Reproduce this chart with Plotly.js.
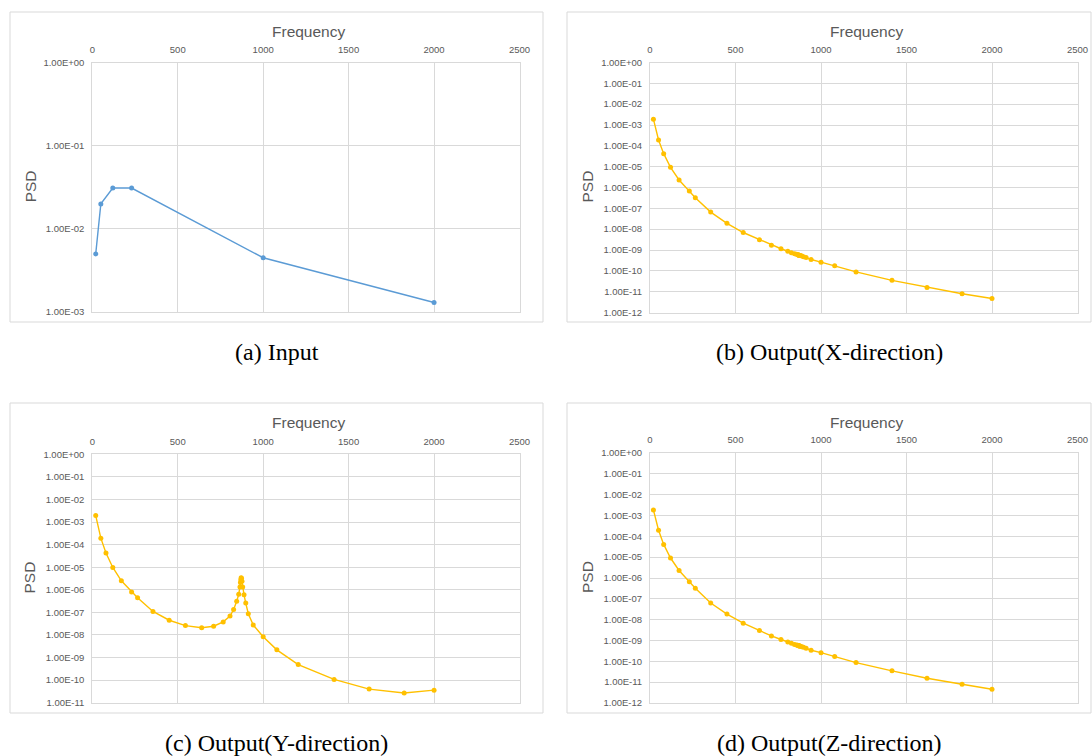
<!DOCTYPE html>
<html>
<head>
<meta charset="utf-8">
<script src="https://cdn.plot.ly/plotly-3.0.1.min.js"></script>
<style>
  html, body { margin: 0; padding: 0; background: #ffffff; }
  #chart { width: 1092px; height: 756px; }
</style>
</head>
<body>
<div id="chart"></div>
<script>
// ---------------- data ----------------
const inputFreq = [20, 50, 120, 230, 1000, 2000];
const inputPSD  = [0.005, 0.02, 0.031, 0.031, 0.0045, 0.0013];

const outFreq = [20, 50, 80, 120, 170, 230, 265, 355, 450, 545, 640, 710, 766, 806, 827, 845, 857,
                 864, 867, 869, 871, 873, 876, 880, 888, 898, 913, 942, 1000, 1080, 1205, 1415, 1620, 1825, 2000];

const outX = [1.91e-3, 1.91e-4, 4.22e-5, 9.33e-6, 2.29e-6, 6.76e-7, 3.24e-7, 6.61e-8, 1.91e-8, 6.92e-9,
              3.09e-9, 1.70e-9, 1.15e-9, 8.7e-10, 7.4e-10, 6.6e-10, 6.2e-10,
              5.9e-10, 5.75e-10, 5.7e-10, 5.6e-10, 5.55e-10, 5.5e-10, 5.4e-10, 5.1e-10, 4.8e-10, 4.4e-10,
              3.5e-10, 2.6e-10, 1.74e-10, 8.9e-11, 3.5e-11, 1.6e-11, 7.9e-12, 4.7e-12];

const outY = [1.95e-3, 1.95e-4, 4.27e-5, 9.8e-6, 2.5e-6, 8.1e-7, 4.5e-7, 1.1e-7, 4.5e-8, 2.6e-8,
              2.1e-8, 2.45e-8, 3.8e-8, 6.9e-8, 1.35e-7, 3.1e-7, 6.3e-7,
              1.35e-6, 2.1e-6, 2.8e-6, 3.4e-6, 3.3e-6, 2.4e-6, 1.35e-6, 6.0e-7, 2.6e-7, 8.7e-8,
              2.75e-8, 8.3e-9, 2.2e-9, 4.9e-10, 1.07e-10, 4.0e-11, 2.7e-11, 3.6e-11];

const outZ = [1.86e-3, 1.95e-4, 4.1e-5, 9.1e-6, 2.3e-6, 6.6e-7, 3.2e-7, 6.3e-8, 1.86e-8, 6.8e-9,
              3.0e-9, 1.66e-9, 1.12e-9, 8.5e-10, 7.3e-10, 6.5e-10, 6.1e-10,
              5.85e-10, 5.7e-10, 5.65e-10, 5.55e-10, 5.5e-10, 5.45e-10, 5.35e-10, 5.05e-10, 4.75e-10, 4.3e-10,
              3.4e-10, 2.6e-10, 1.7e-10, 8.7e-11, 3.5e-11, 1.55e-11, 7.9e-12, 4.6e-12];

const xTicks = [0, 500, 1000, 1500, 2000, 2500];
const yTicksA = ["1.00E+00", "1.00E-01", "1.00E-02", "1.00E-03"];
const yTicksB = ["1.00E+00", "1.00E-01", "1.00E-02", "1.00E-03", "1.00E-04", "1.00E-05", "1.00E-06",
                 "1.00E-07", "1.00E-08", "1.00E-09", "1.00E-10", "1.00E-11", "1.00E-12"];
const yTicksC = ["1.00E+00", "1.00E-01", "1.00E-02", "1.00E-03", "1.00E-04", "1.00E-05", "1.00E-06",
                 "1.00E-07", "1.00E-08", "1.00E-09", "1.00E-10", "1.00E-11"];

const captions = ["(a) Input", "(b) Output(X-direction)", "(c) Output(Y-direction)", "(d) Output(Z-direction)"];
const xTitle = "Frequency";
const yTitle = "PSD";

// ---------------- layout helpers ----------------
const W = 1092, H = 756;
const px = x => x / W;
const py = y => 1 - y / H;

// panel geometry in pixels
const panels = [
  {box: [10, 12, 543, 322],   plot: [92.3, 62.7, 519.5, 312],   ticks: yTicksA, cap: 352},
  {box: [567, 12, 1091, 322], plot: [650, 62.5, 1077.5, 312.5], ticks: yTicksB, cap: 352},
  {box: [10, 403, 543, 713],  plot: [92.3, 454.4, 519.5, 702.7], ticks: yTicksC, cap: 743},
  {box: [567, 403, 1091, 713],plot: [650, 453, 1077.5, 703],    ticks: yTicksB, cap: 743}
];

const seriesY = [inputPSD, outX, outY, outZ];
const seriesX = [inputFreq, outFreq, outFreq, outFreq];
const colors = ["#5b9bd5", "#ffc000", "#ffc000", "#ffc000"];

const gray = "#d9d9d9";
const textGray = "#595959";
const sans = "Liberation Sans, Arial, sans-serif";

const data = [];
const layout = {
  width: W, height: H,
  margin: {l: 0, r: 0, t: 0, b: 0},
  paper_bgcolor: "#ffffff",
  plot_bgcolor: "#ffffff",
  showlegend: false,
  shapes: [],
  annotations: []
};

panels.forEach((p, i) => {
  const n = i === 0 ? "" : String(i + 1);
  const xa = "xaxis" + n, ya = "yaxis" + n;
  const exps = p.ticks.map((t, k) => Math.pow(10, -k));
  layout[xa] = {
    domain: [px(p.plot[0]), px(p.plot[2])],
    anchor: "y" + n,
    side: "top",
    range: [0, 2500],
    tickvals: xTicks,
    ticks: "",
    ticklabelstandoff: 5,
    tickfont: {family: sans, size: 9.5, color: textGray},
    showgrid: true, gridcolor: gray, gridwidth: 1,
    zeroline: false,
    showline: true, linecolor: gray, linewidth: 1, mirror: true,
    fixedrange: true
  };
  layout[ya] = {
    domain: [py(p.plot[3]), py(p.plot[1])],
    anchor: "x" + n,
    type: "log",
    range: [-(p.ticks.length - 1), 0],
    tickvals: exps,
    ticktext: p.ticks,
    ticks: "",
    ticklabelstandoff: 5,
    tickfont: {family: sans, size: 9.5, color: textGray},
    showgrid: true, gridcolor: gray, gridwidth: 1,
    zeroline: false,
    showline: true, linecolor: gray, linewidth: 1, mirror: true,
    fixedrange: true
  };
  data.push({
    type: "scatter", mode: "lines+markers",
    x: seriesX[i], y: seriesY[i],
    xaxis: "x" + n, yaxis: "y" + n,
    line: {color: colors[i], width: 1.4},
    marker: {color: colors[i], size: 5}
  });
  // panel frame
  layout.shapes.push({
    type: "rect", xref: "paper", yref: "paper",
    x0: px(p.box[0]), x1: px(p.box[2]), y0: py(p.box[3]), y1: py(p.box[1]),
    line: {color: gray, width: 1}, fillcolor: "rgba(0,0,0,0)", layer: "below"
  });
  // axis titles
  const cx = (p.plot[0] + p.plot[2]) / 2 + 3;
  const cy = (p.plot[1] + p.plot[3]) / 2;
  layout.annotations.push({
    xref: "paper", yref: "paper", x: px(cx), y: py(p.box[1] + 19),
    text: xTitle, showarrow: false, xanchor: "center", yanchor: "middle",
    font: {family: sans, size: 15.5, color: textGray}
  });
  layout.annotations.push({
    xref: "paper", yref: "paper", x: px(p.box[0] + 20), y: py(cy - 1),
    text: yTitle, showarrow: false, textangle: -90, xanchor: "center", yanchor: "middle",
    font: {family: sans, size: 15.5, color: textGray}
  });
  // caption
  layout.annotations.push({
    xref: "paper", yref: "paper", x: px((p.box[0] + p.box[2]) / 2), y: py(p.cap),
    text: captions[i], showarrow: false, xanchor: "center", yanchor: "middle",
    font: {family: "Liberation Serif, Times New Roman, serif", size: 24, color: "#000000"}
  });
});

Plotly.newPlot("chart", data, layout, {staticPlot: true, displayModeBar: false});
</script>
</body>
</html>
